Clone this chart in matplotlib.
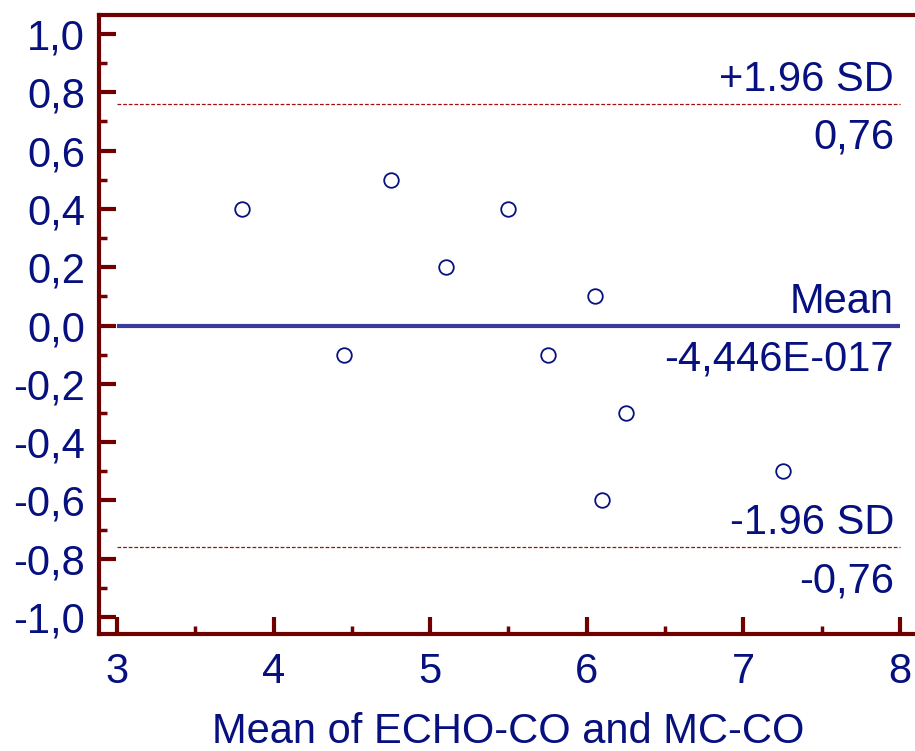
import matplotlib
matplotlib.use("Agg")
import matplotlib.pyplot as plt
from matplotlib.ticker import MultipleLocator, FuncFormatter

x_means = [3.8, 4.45, 4.75, 5.1, 5.5, 5.75, 6.05, 6.1, 6.25, 7.25]
y_diffs = [0.4, -0.1, 0.5, 0.2, 0.4, -0.1, 0.1, -0.6, -0.3, -0.5]
mean_diff = 0.0
upper_loa = 0.76
lower_loa = -0.76
mean_label = "-4,446E-017"
upper_label = "0,76"
lower_label = "-0,76"

navy = "#06107e"
spine_red = "#700000"
line_blue = "#3a3a9a"

plt.rcParams['font.family'] = ['Liberation Sans', 'DejaVu Sans']

fig = plt.figure(figsize=(9.15, 7.51), dpi=100)
W, H = 915, 751
left, right, top, bottom = 99, 915, 15, 634
ax = fig.add_axes([left / W, 1 - bottom / H, (right - left) / W, (bottom - top) / H])

ax.set_xlim(2.885, 8.096)
ax.set_ylim(-1.058, 1.065)

for s in ["left", "bottom", "top"]:
    ax.spines[s].set_color(spine_red)
    ax.spines[s].set_linewidth(3)
ax.spines["right"].set_visible(False)

fs = 30
ax.xaxis.set_major_locator(MultipleLocator(1))
ax.xaxis.set_minor_locator(MultipleLocator(0.5))
ax.yaxis.set_major_locator(MultipleLocator(0.2))
ax.yaxis.set_minor_locator(MultipleLocator(0.1))
ax.yaxis.set_major_formatter(FuncFormatter(lambda v, p: f"{v:.1f}".replace(".", ",").replace("-0,0", "0,0")))
ax.xaxis.set_major_formatter(FuncFormatter(lambda v, p: f"{v:.0f}"))

ax.tick_params(axis="both", which="major", direction="in", length=12, width=3, color=spine_red,
               labelsize=fs, labelcolor=navy)
ax.tick_params(axis="both", which="minor", direction="in", length=6, width=2.5, color=spine_red)
ax.tick_params(axis="y", which="both", pad=10)
ax.tick_params(axis="x", which="both", pad=13)
ax.tick_params(top=False, which="both")

ax.hlines(mean_diff, 3, 8, color=line_blue, linewidth=3, zorder=2)
ax.hlines([upper_loa, lower_loa], 3, 8, color="#a01010", linewidth=0.9,
          linestyles=(0, (3, 1.5)), zorder=2)

ax.scatter(x_means, y_diffs, s=110, facecolors="white", edgecolors=navy, linewidths=1.3, zorder=3)

xt = 7.962
above = 13 / 291.5
below = 45 / 291.5
for yv, top_txt, bot_txt in [(upper_loa, "+1.96 SD", upper_label),
                             (mean_diff, "Mean", mean_label),
                             (lower_loa, "-1.96 SD", lower_label)]:
    ax.text(xt, yv + above, top_txt, ha="right", va="baseline", fontsize=fs, color=navy)
    ax.text(xt, yv - below, bot_txt, ha="right", va="baseline", fontsize=fs, color=navy)

fig.text(508 / W, 1 - 743 / H, "Mean of ECHO-CO and MC-CO", ha="center", va="baseline",
         fontsize=fs, color=navy)

fig.savefig("out.png", dpi=100)
